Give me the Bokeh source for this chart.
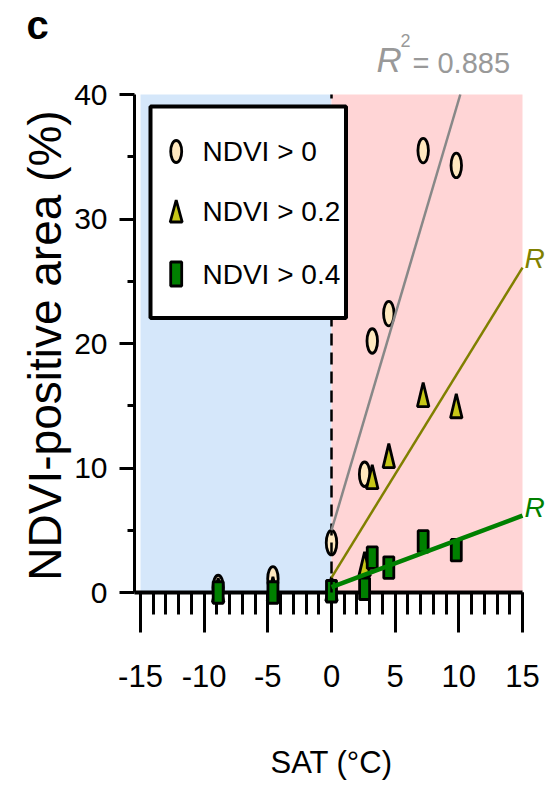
import math

from bokeh.plotting import figure
from bokeh.models import FixedTicker, Range1d
from bokeh.core.properties import value
from bokeh.embed import file_html
from bokeh.resources import INLINE

# ---- data: surface air temperature (°C) vs NDVI-positive area (%) ----
sat = [-8.9, -4.6, 0.0, 2.6, 3.2, 4.5, 7.2, 9.8]
area_ndvi_0 = [0.4, 1.1, 4.0, 9.5, 20.2, 22.4, 35.5, 34.3]
area_ndvi_02 = [0.2, 0.3, 0.3, 2.3, 9.3, 11.0, 15.9, 15.0]
area_ndvi_04 = [0.0, 0.0, 0.1, 0.3, 2.8, 2.0, 4.1, 3.4]

# linear fits over the warm (SAT > 0) samples: (intercept, slope)
fit_ndvi_0 = (5.0, 3.46)
fit_ndvi_02 = (1.2, 1.66)
fit_ndvi_04 = (0.43, 0.383)
r2_ndvi_0 = "0.885"

legend_labels = ["NDVI > 0", "NDVI > 0.2", "NDVI > 0.4"]

x_ticks = [-15, -10, -5, 0, 5, 10, 15]
x_tick_labels = ["-15", "-10", "-5", "0", "5", "10", "15"]
x_minor_ticks = list(range(-15, 16))
y_ticks = [0, 10, 20, 30, 40]
y_minor_ticks = [5, 15, 25, 35]

# ---- colours / fonts ----
COLD_BG = "#d5e7fa"
WARM_BG = "#ffd5d6"
C_NDVI0 = "#ffe8bf"
C_NDVI02 = "#c6c617"
C_NDVI04 = "#008000"
L_NDVI0 = "#888888"
L_NDVI02 = "#808000"
L_NDVI04 = "#008000"
FONT = "Liberation Sans"

# ---- canvas geometry: the plot frame fills the whole canvas ----
W, H = 546, 791
KX = 382 / 30          # px per °C
KY = 498 / 40          # px per % area
x_start = -15 - 140 / KX
x_end = x_start + W / KX
y_end = 592 / KY
y_start = y_end - H / KY
y_axis_x = -15 - 6 / KX


def px_x(px):
    return x_start + px / KX


def px_y(py):
    return y_end - py / KY


p = figure(width=W, height=H,
           x_range=Range1d(x_start, x_end), y_range=Range1d(y_start, y_end),
           output_backend="svg", toolbar_location=None,
           min_border_left=0, min_border_right=0,
           min_border_top=0, min_border_bottom=0)
p.outline_line_color = None
p.grid.visible = False

# cold / warm shading
p.quad(left=[-15, 0], right=[0, 15], bottom=[0, 0], top=[40, 40],
       fill_color=[COLD_BG, WARM_BG], line_color=None, level="underlay")


def triangles(xc, yc, w_px, h_px):
    hw, hh = w_px / 2 / KX, h_px / 2 / KY
    xs = [[x - hw, x + hw, x] for x in xc]
    ys = [[y - hh, y - hh, y + hh] for y in yc]
    return xs, ys


# samples
p.ellipse(sat, area_ndvi_0, width=10.5, height=24.5,
          width_units="screen", height_units="screen",
          fill_color=C_NDVI0, line_color="black", line_width=2.8, level="annotation")
txs, tys = triangles(sat, area_ndvi_02, 11.5, 24)
p.patches(txs, tys, fill_color=C_NDVI02, line_color="black", line_width=2.8, level="annotation")
p.rect(sat, area_ndvi_04, width=10, height=21.5,
       width_units="screen", height_units="screen",
       fill_color=C_NDVI04, line_color="black", line_width=2.8, level="annotation")

# 0 °C divider
p.line([0, 0], [0, 40], line_color="black", line_width=2.5, line_dash="12 7", level="annotation")

# fit lines, drawn from 0 °C and kept inside the shaded box
for (b, m), col, lw in [(fit_ndvi_0, L_NDVI0, 2.5), (fit_ndvi_02, L_NDVI02, 2.5),
                        (fit_ndvi_04, L_NDVI04, 4.5)]:
    x1 = min(15.0, (40 - b) / m)
    p.line([0, x1], [b, b + m * x1], line_color=col, line_width=lw, level="annotation")

# legend
lg_left, lg_right, lg_top, lg_bottom = px_x(150), px_x(345.5), px_y(106), px_y(317.5)
lg_mx, lg_tx = px_x(175.7), px_x(202)
lg_rows = [px_y(151), px_y(210.5), px_y(273.5)]
p.quad(left=[lg_left], right=[lg_right], bottom=[lg_bottom], top=[lg_top],
       fill_color="white", line_color="black", line_width=4, level="annotation")
p.ellipse([lg_mx], [lg_rows[0]], width=11, height=22,
          width_units="screen", height_units="screen",
          fill_color=C_NDVI0, line_color="black", line_width=2.8, level="annotation")
lxs, lys = triangles([lg_mx], [lg_rows[1]], 12, 22)
p.patches(lxs, lys, fill_color=C_NDVI02, line_color="black", line_width=2.8, level="annotation")
p.rect([lg_mx], [lg_rows[2]], width=11, height=24,
       width_units="screen", height_units="screen",
       fill_color=C_NDVI04, line_color="black", line_width=2.8, level="annotation")
p.text([lg_tx] * 3, lg_rows, text=legend_labels, text_baseline="middle",
       text_align="left", text_font=value(FONT), text_font_size="28px",
       text_color="black", level="annotation")

# R² annotations
r2_base = px_y(78)
p.text([px_x(376)], [r2_base], text=["R"], text_font=value(FONT), text_font_style="italic",
       text_font_size="35px", text_color="#999999", level="annotation")
p.text([px_x(400)], [px_y(46)], text=["2"], text_font=value(FONT),
       text_font_size="18px", text_color="#999999", level="annotation")
p.text([px_x(412)], [r2_base], text=["= " + r2_ndvi_0], text_font=value(FONT),
       text_font_size="29px", text_color="#999999", level="annotation")
p.text([px_x(524)], [px_y(273)], text=["R"], text_font=value(FONT), text_font_style="italic",
       text_font_size="28px", text_color=L_NDVI02, level="annotation")
p.text([px_x(524)], [px_y(522)], text=["R"], text_font=value(FONT), text_font_style="italic",
       text_font_size="28px", text_color=L_NDVI04, level="annotation")

# panel letter
p.text([px_x(26)], [px_y(2)], text=["c"], text_font=value(FONT), text_font_style="bold",
       text_font_size="40px", text_baseline="top", text_color="black", level="annotation")

# axis titles
p.text([0], [px_y(762)], text=["SAT (°C)"], text_font=value(FONT), text_font_size="31px",
       text_align="center", text_baseline="middle", text_color="black", level="annotation")
p.text([px_x(44)], [px_y(345)], text=["NDVI-positive area (%)"], angle=math.pi / 2,
       text_font=value(FONT), text_font_size="46px", text_align="center",
       text_baseline="middle", text_color="black", level="annotation")

# x axis sits on the 0 % line
xa = p.xaxis[0]
xa.fixed_location = 0
xa.bounds = (y_axis_x, 15)
xa.ticker = FixedTicker(ticks=x_ticks, minor_ticks=x_minor_ticks)
xa.major_label_overrides = dict(zip(x_ticks, x_tick_labels))
xa.axis_line_width = 4
xa.major_tick_line_width = 3
xa.minor_tick_line_width = 3
xa.major_tick_in, xa.major_tick_out = 0, 40
xa.minor_tick_in, xa.minor_tick_out = 0, 22
xa.major_label_text_font = FONT
xa.major_label_text_font_size = "31px"
xa.major_label_text_color = "black"
xa.major_label_standoff = 32

ya = p.yaxis[0]
ya.fixed_location = y_axis_x
ya.bounds = (0, 40)
ya.ticker = FixedTicker(ticks=y_ticks, minor_ticks=y_minor_ticks)
ya.axis_line_width = 3
ya.major_tick_line_width = 3
ya.minor_tick_line_width = 3
ya.major_tick_in, ya.major_tick_out = 0, 15
ya.minor_tick_in, ya.minor_tick_out = 0, 7
ya.major_label_text_font = FONT
ya.major_label_text_font_size = "30px"
ya.major_label_text_color = "black"
ya.major_label_standoff = 12

open("out.html", "w").write(file_html(p, INLINE))
